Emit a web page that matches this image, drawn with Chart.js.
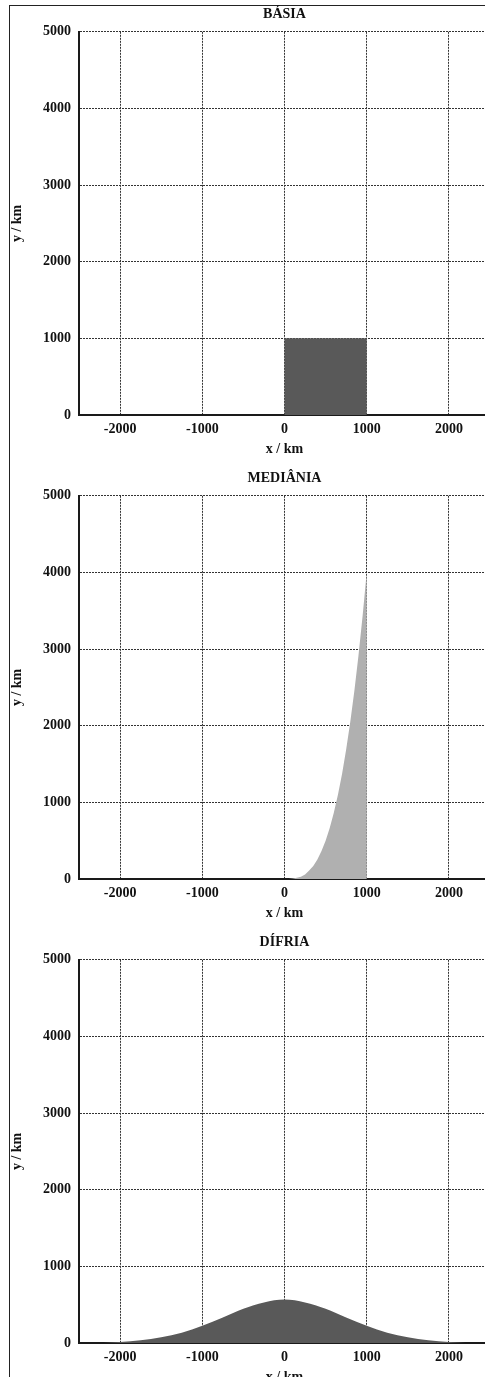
<!DOCTYPE html>
<html>
<head>
<meta charset="utf-8">
<script src="https://cdn.jsdelivr.net/npm/chart.js@4"></script>
<style>
html, body { margin: 0; padding: 0; background: #fff; overflow: hidden; width: 485px; height: 1377px; position: relative; }
#moldura { position: absolute; left: 9px; top: 5px; width: 700px; height: 1600px; border: 1px solid #222; }
canvas { position: absolute; left: 0; }
</style>
</head>
<body>
<div id="moldura"></div>
<canvas id="basia" width="500" height="464" style="top:0px"></canvas>
<canvas id="mediania" width="500" height="464" style="top:464px"></canvas>
<canvas id="difria" width="500" height="464" style="top:928px"></canvas>
<script>
// Eixos
const ticksX = [-2000, -1000, 0, 1000, 2000];
const ticksY = [0, 1000, 2000, 3000, 4000, 5000];

// Básia: bloco retangular
const basiaX = [-2500, 0, 0, 1000, 1000, 2500];
const basiaY = [0, 0, 1000, 1000, 0, 0];

// Mediânia: rampa que sobe até 1000 km e cai na vertical
const medianiaX = [-2500, 0, 50, 100, 150, 200, 250, 300, 350, 400, 450, 500, 550, 600, 650, 700, 750, 800, 850, 900, 950, 1000, 1000, 2500];
const medianiaY = [0, 0, 0, 5, 15, 30, 60, 110, 170, 255, 365, 500, 665, 865, 1100, 1370, 1690, 2050, 2455, 2915, 3430, 4000, 0, 0];

// Dífria: morro suave centrado em 0
const difriaX = [-2500, -2200, -2100, -2000, -1750, -1500, -1250, -1000, -750, -500, -250, 0, 250, 500, 750, 1000, 1250, 1500, 1750, 2000, 2100, 2200, 2500];
const difriaY = [0, 0, 6, 13, 35, 75, 135, 224, 332, 447, 530, 567, 530, 447, 332, 224, 135, 75, 35, 13, 6, 0, 0];

const fonteSerif = 'Liberation Serif';

function criarGrafico(id, titulo, xs, ys, cor, suave) {
    const pontos = xs.map((x, i) => ({ x: x, y: ys[i] }));
    const grade = { color: '#333', lineWidth: 1, drawTicks: false };
    const borda = { color: '#1a1a1a', width: 2, dash: [2, 1] };
    const fonteTick = { family: fonteSerif, weight: 'bold', size: 14 };
    const fonteTitulo = { family: fonteSerif, weight: 'bold', size: 14 };
    const semVirgula = v => String(v);

    return new Chart(document.getElementById(id), {
        type: 'line',
        data: {
            datasets: [{
                data: pontos,
                fill: 'origin',
                backgroundColor: cor,
                borderColor: cor,
                borderWidth: 0,
                pointRadius: 0,
                tension: 0,
                cubicInterpolationMode: suave ? 'monotone' : 'default'
            }]
        },
        options: {
            responsive: false,
            animation: false,
            devicePixelRatio: 1,
            layout: { padding: { left: 9, right: 10, top: 0, bottom: 0 } },
            plugins: {
                legend: { display: false },
                tooltip: { enabled: false },
                title: {
                    display: true,
                    text: titulo,
                    fullSize: false,
                    color: '#111',
                    font: fonteTitulo,
                    padding: { top: 6, bottom: 9 }
                }
            },
            scales: {
                x: {
                    type: 'linear',
                    min: -2500,
                    max: 2500,
                    afterBuildTicks: s => { s.ticks = ticksX.map(v => ({ value: v })); },
                    afterFit: s => { s.height = 49; },
                    grid: grade,
                    border: borda,
                    ticks: { color: '#111', font: fonteTick, padding: 6, maxRotation: 0, callback: semVirgula },
                    title: { display: true, text: 'x / km', color: '#111', font: fonteTitulo, padding: { top: 0, bottom: 6 } }
                },
                y: {
                    type: 'linear',
                    min: 0,
                    max: 5000,
                    afterBuildTicks: s => { s.ticks = ticksY.map(v => ({ value: v })); },
                    afterFit: s => { s.width = 70; },
                    grid: grade,
                    border: borda,
                    ticks: { color: '#111', font: fonteTick, padding: 8, callback: semVirgula },
                    title: { display: true, text: 'y / km', color: '#111', font: fonteTitulo, padding: { top: 0, bottom: 0 } }
                }
            }
        }
    });
}

criarGrafico('basia', 'BÁSIA', basiaX, basiaY, '#595959', false);
criarGrafico('mediania', 'MEDIÂNIA', medianiaX, medianiaY, '#b0b0b0', false);
criarGrafico('difria', 'DÍFRIA', difriaX, difriaY, '#595959', true);
</script>
</body>
</html>
